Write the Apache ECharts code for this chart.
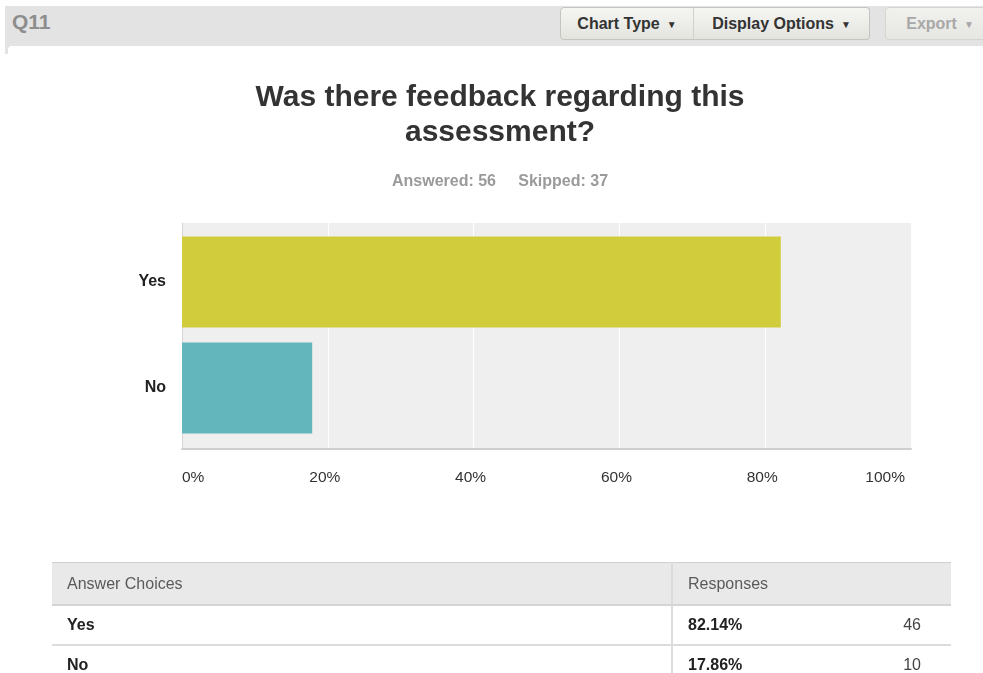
<!DOCTYPE html>
<html>
<head>
<meta charset="utf-8">
<title>Q11 – Was there feedback regarding this assessment?</title>
<script src="https://cdn.jsdelivr.net/npm/echarts@6/dist/echarts.min.js"></script>
<style>
  html, body { margin: 0; padding: 0; width: 983px; height: 673px; overflow: hidden; background: #fff; font-family: "Liberation Sans", Arial, sans-serif; }
  #toolbar { position: absolute; left: 5px; top: 6px; width: 978px; height: 48px; background: #e3e3e3; }
  #panel { position: absolute; left: 8px; top: 46px; width: 975px; height: 627px; background: #fff; border-top-left-radius: 4px; }
  #qnum { position: absolute; left: 7px; top: 0px; font-size: 21px; font-weight: bold; color: #8d8d8d; line-height: 32px; }
  .btn { position: absolute; top: 1px; height: 33px; box-sizing: border-box; border: 1px solid #c4c4c0;
         background: linear-gradient(#f5f5f2, #e4e4df); font-size: 16px; font-weight: bold; color: #333;
         line-height: 31px; text-align: center; }
  .btn .caret { font-size: 10px; margin-left: 7px; position: relative; top: -1px; }
  #btnType { left: 555px; width: 134px; border-radius: 4px 0 0 4px; }
  #btnDisplay { left: 688px; width: 177px; border-left: 1px solid #d0d0cc; border-radius: 0 4px 4px 0; }
  #btnExport { left: 880px; width: 110px; color: #a8a8a8; border-color: #d4d4d0; border-radius: 4px; background: linear-gradient(#f1f1ee, #e6e6e2); }
  #chart { position: absolute; left: 0; top: 0; width: 983px; height: 673px; }
  table { position: absolute; left: 52px; top: 562px; width: 899px; border-collapse: collapse; font-size: 16px; }
  th { background: #e9e9e9; color: #5a5a5a; font-weight: normal; text-align: left; height: 41px; padding: 0 0 0 15px; border-top: 1px solid #d0d0d0; border-bottom: 2px solid #d4d4d4; }
  td { height: 38px; padding: 0 0 0 15px; border-bottom: 2px solid #dcdcdc; color: #222; }
  .col1 { width: 604px; border-right: 2px solid #dcdcdc; }
  .pct { font-weight: bold; }
  .cnt { text-align: right; padding-right: 30px; color: #444; }
  td.choice { font-weight: bold; }
</style>
</head>
<body>
<div id="toolbar">
  <div id="qnum">Q11</div>
  <div class="btn" id="btnType">Chart Type<span class="caret">▼</span></div>
  <div class="btn" id="btnDisplay">Display Options<span class="caret">▼</span></div>
  <div class="btn" id="btnExport">Export<span class="caret">▼</span></div>
</div>
<div id="panel"></div>
<div id="chart"></div>
<table id="summary"></table>
<script>
// Survey question and response summary
const questionTitle = 'Was there feedback regarding this\nassessment?';
const answeredCount = 56;
const skippedCount = 37;

// Answer choices, share of respondents (%) and raw counts
const categories = ['Yes', 'No'];
const percentValues = [82.14, 17.86];
const responseCounts = [46, 10];

// Percentage axis ticks
const axisMin = 0;
const axisMax = 100;
const axisStep = 20;

const barColors = ['#d1cc3c', '#63b6bb'];

// Summary table below the chart
const table = document.getElementById('summary');
let html = '<tr><th class="col1">Answer Choices</th><th colspan="2">Responses</th></tr>';
categories.forEach(function (c, i) {
  html += '<tr><td class="col1 choice">' + c + '</td><td class="pct">' +
          percentValues[i].toFixed(2) + '%</td><td class="cnt">' + responseCounts[i] + '</td></tr>';
});
table.innerHTML = html;

const chart = echarts.init(document.getElementById('chart'), null, { renderer: 'canvas' });
const fontFamily = '"Liberation Sans", Arial, sans-serif';

chart.setOption({
  animation: false,
  textStyle: { fontFamily: fontFamily },
  title: [
    {
      text: questionTitle,
      left: 500,
      top: 80,
      padding: 0,
      textAlign: 'center',
      textStyle: { fontSize: 30, fontWeight: 'bold', color: '#333', lineHeight: 35, fontFamily: fontFamily }
    },
    {
      text: 'Answered: ' + answeredCount + '     Skipped: ' + skippedCount,
      left: 500,
      top: 174,
      padding: 0,
      textAlign: 'center',
      textStyle: { fontSize: 16, fontWeight: 'bold', color: '#9a9a9a', fontFamily: fontFamily }
    }
  ],
  grid: [
    // plot backdrop, grid lines and percentage axis
    { left: 182, top: 223, width: 729, height: 226, show: true, backgroundColor: '#efefef', borderWidth: 0 },
    // bars
    { left: 182, top: 229, width: 729, height: 212 }
  ],
  xAxis: [
    {
      gridIndex: 0, type: 'value', min: axisMin, max: axisMax, interval: axisStep,
      axisLine: { show: true, lineStyle: { color: '#cfcfcf', width: 2 } },
      axisTick: { show: false },
      splitLine: { show: true, lineStyle: { color: '#ffffff', width: 1 } },
      axisLabel: {
        formatter: '{value}%', color: '#333', fontSize: 15.5, margin: 21,
        padding: [0, 6, 0, 0],
        alignMinLabel: 'left', alignMaxLabel: 'right'
      }
    },
    { gridIndex: 1, type: 'value', min: axisMin, max: axisMax, show: false }
  ],
  yAxis: [
    {
      gridIndex: 0, type: 'value', min: 0, max: 1,
      axisLine: { show: true, lineStyle: { color: '#d6d6d6', width: 1 } },
      axisTick: { show: false }, axisLabel: { show: false }, splitLine: { show: false }
    },
    {
      gridIndex: 1, type: 'category', data: categories, inverse: true,
      axisLine: { show: false }, axisTick: { show: false },
      axisLabel: { color: '#222', fontSize: 16, fontWeight: 'bold', margin: 16 }
    }
  ],
  series: [
    {
      type: 'bar',
      xAxisIndex: 1,
      yAxisIndex: 1,
      barWidth: 91,
      data: percentValues.map(function (v, i) {
        return { value: v, itemStyle: { color: barColors[i] } };
      })
    }
  ]
});
</script>
</body>
</html>
